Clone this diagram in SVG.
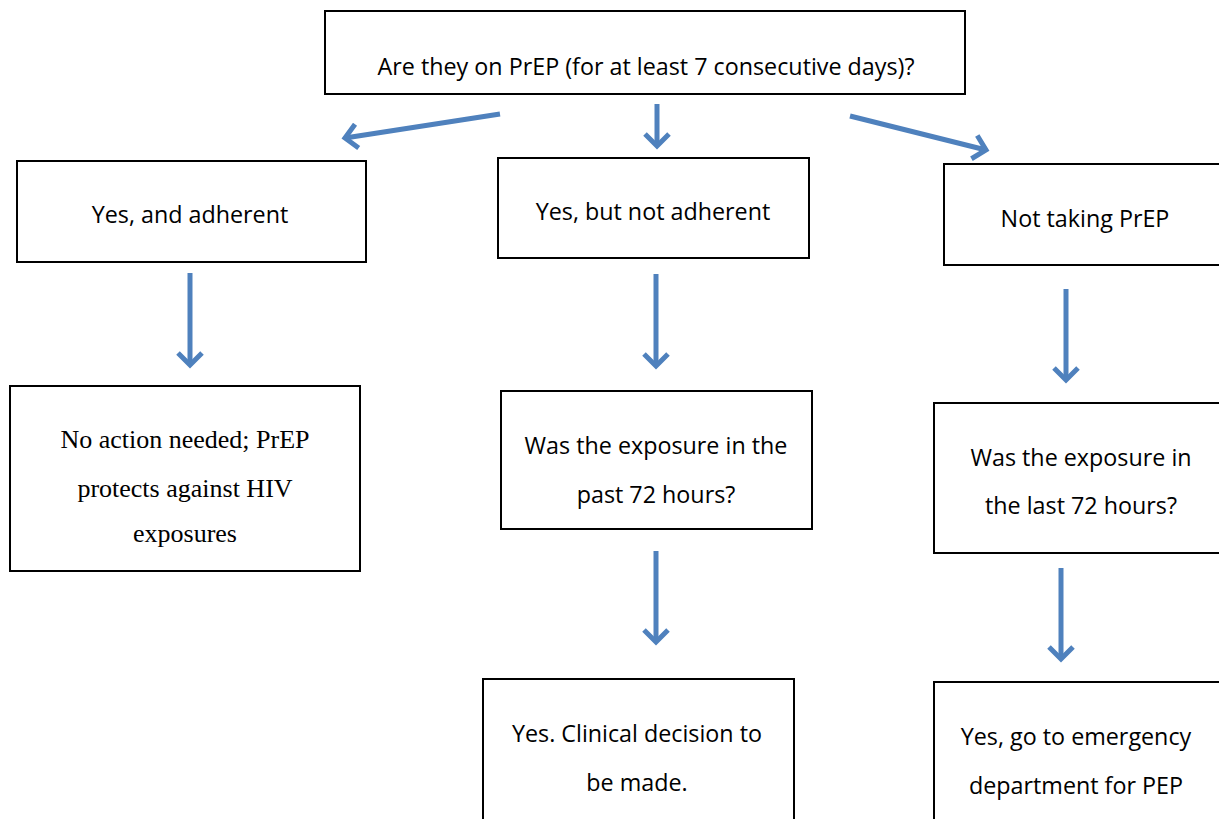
<svg xmlns="http://www.w3.org/2000/svg" width="1219" height="819" viewBox="0 0 1219 819">
<defs>
<style>
.box{fill:#fff;stroke:#000;stroke-width:2}
.t{font-family:"Open Sans","Liberation Sans",sans-serif;font-size:23.3px;fill:#000;text-anchor:middle}
.s{font-family:"Liberation Serif","Times New Roman",serif;font-size:26px;fill:#000;text-anchor:middle}
.arr{fill:none;stroke:#4F81BD;stroke-width:5;stroke-linecap:butt;marker-end:url(#head)}
</style>
<marker id="head" markerUnits="userSpaceOnUse" viewBox="-16 -14 20 28" markerWidth="20" markerHeight="28" refX="0" refY="0" orient="auto">
<path d="M-12,-12 L0,0 L-12,12" fill="none" stroke="#4F81BD" stroke-width="5" stroke-linejoin="miter"/>
</marker>
</defs>
<rect width="1219" height="819" fill="#fff"/>
<g id="connectors">
<path class="arr" d="M500,114 L345,138"/>
<path class="arr" d="M657,104 L657,146"/>
<path class="arr" d="M850,116 L986,150"/>
<path class="arr" d="M190,273 L190,365"/>
<path class="arr" d="M656,274 L656,366"/>
<path class="arr" d="M1066,289 L1066,380"/>
<path class="arr" d="M656,551 L656,642"/>
<path class="arr" d="M1061,568 L1061,659"/>
</g>
<g id="n-top"><rect class="box" x="325" y="11" width="640" height="83"/><text class="t" x="646" y="75">Are they on PrEP (for at least 7 consecutive days)?</text></g>
<g id="n-adherent"><rect class="box" x="17" y="161" width="349" height="101"/><text class="t" x="190" y="223">Yes, and adherent</text></g>
<g id="n-notadherent"><rect class="box" x="498" y="158" width="311" height="100"/><text class="t" x="653" y="220">Yes, but not adherent</text></g>
<g id="n-nottaking"><rect class="box" x="944" y="164" width="285" height="101"/><text class="t" x="1085" y="227">Not taking PrEP</text></g>
<g id="n-noaction"><rect class="box" x="10" y="386" width="350" height="185"/><text class="s" x="185" y="448">No action needed; PrEP</text><text class="s" x="185" y="497">protects against HIV</text><text class="s" x="185" y="542">exposures</text></g>
<g id="n-past72"><rect class="box" x="501" y="391" width="311" height="138"/><text class="t" x="656" y="454">Was the exposure in the</text><text class="t" x="656" y="503">past 72 hours?</text></g>
<g id="n-last72"><rect class="box" x="934" y="403" width="295" height="150"/><text class="t" x="1081" y="466">Was the exposure in</text><text class="t" x="1081" y="514">the last 72 hours?</text></g>
<g id="n-clinical"><rect class="box" x="483" y="679" width="311" height="150"/><text class="t" x="637" y="742">Yes. Clinical decision to</text><text class="t" x="637" y="791">be made.</text></g>
<g id="n-emergency"><rect class="box" x="934" y="682" width="295" height="150"/><text class="t" x="1076" y="745">Yes, go to emergency</text><text class="t" x="1076" y="794">department for PEP</text></g>
</svg>
